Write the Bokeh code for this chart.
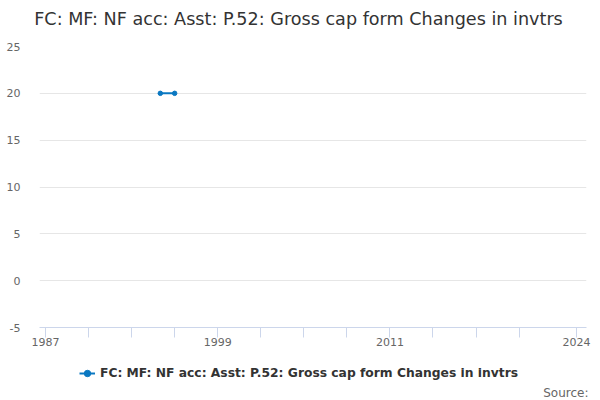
from bokeh.plotting import figure
from bokeh.layouts import column
from bokeh.models import (ColumnDataSource, FixedTicker, Range1d, Label, Legend, LegendItem)
from bokeh.embed import file_html
from bokeh.resources import INLINE

# ---- data ----
years = [1995, 1996]
values = [20, 20]
series_name = "FC: MF: NF acc: Asst: P.52: Gross cap form Changes in invtrs"
title_text = "FC: MF: NF acc: Asst: P.52: Gross cap form Changes in invtrs"
x_ticks = [1987, 1990, 1993, 1996, 1999, 2002, 2005, 2008, 2011, 2014, 2017, 2020, 2024]
x_tick_labels = ["1987", "", "", "", "1999", "", "", "", "2011", "", "", "", "2024"]
y_ticks = [-5, 0, 5, 10, 15, 20, 25]
y_tick_labels = ["-5", "0", "5", "10", "15", "20", "25"]
source_text = "Source:"

FONT = "DejaVu Sans"
LINE_COLOR = "#0a78c2"
W = 600


def bare(height):
    f = figure(width=W, height=height, output_backend="svg", toolbar_location=None,
               x_range=Range1d(0, 1), y_range=Range1d(0, 1),
               x_axis_type=None, y_axis_type=None,
               min_border_left=0, min_border_right=0, min_border_top=0, min_border_bottom=0)
    f.frame_align = False
    f.outline_line_color = None
    f.xgrid.visible = False
    f.ygrid.visible = False
    f.border_fill_color = "white"
    f.background_fill_color = "white"
    return f


src = ColumnDataSource(data=dict(x=years, y=values))

# ---- title strip ----
top = bare(36)
top.add_layout(Label(x=298, y=18, x_units="screen", y_units="screen", text=title_text,
                     text_align="center", text_baseline="middle", text_font=FONT,
                     text_font_size="17.6px", text_color="#333333"))

# ---- main chart ----
p = figure(width=W, height=316, output_backend="svg", toolbar_location=None,
           x_range=Range1d(1986.58, 2024.7), y_range=Range1d(-5, 25),
           min_border_left=39, min_border_right=14, min_border_top=10, min_border_bottom=25)
p.outline_line_color = None
p.background_fill_color = "white"
p.border_fill_color = "white"

p.line("x", "y", source=src, line_color=LINE_COLOR, line_width=2)
p.scatter("x", "y", source=src, marker="circle", size=4.5,
          fill_color=LINE_COLOR, line_color=LINE_COLOR)

xa = p.xaxis[0]
xa.ticker = FixedTicker(ticks=x_ticks)
xa.major_label_overrides = {t: l for t, l in zip(x_ticks, x_tick_labels)}
xa.axis_line_color = "#ccd6eb"
xa.major_tick_line_color = "#ccd6eb"
xa.major_tick_out = 10
xa.major_tick_in = 0
xa.minor_tick_line_color = None
xa.major_label_standoff = 0
xa.major_label_text_font = FONT
xa.major_label_text_font_size = "11px"
xa.major_label_text_color = "#666666"

ya = p.yaxis[0]
ya.ticker = FixedTicker(ticks=y_ticks)
ya.major_label_overrides = {t: l for t, l in zip(y_ticks, y_tick_labels)}
ya.axis_line_color = None
ya.major_tick_line_color = None
ya.minor_tick_line_color = None
ya.major_label_standoff = 13
ya.major_label_text_font = FONT
ya.major_label_text_font_size = "11px"
ya.major_label_text_color = "#666666"

p.xgrid.grid_line_color = None
p.ygrid.ticker = FixedTicker(ticks=[0, 5, 10, 15, 20, 25])
p.ygrid.grid_line_color = "#e6e6e6"

# ---- legend + source strip ----
bot = bare(48)
# series drawn here only to supply the legend swatch (falls outside this strip's range)
lg_line = bot.line("x", "y", source=src, line_color=LINE_COLOR, line_width=2)
lg_pts = bot.scatter("x", "y", source=src, marker="circle", size=4,
                     fill_color=LINE_COLOR, line_color=LINE_COLOR)
legend = Legend(items=[LegendItem(label=series_name, renderers=[lg_line, lg_pts])],
                location=(79, 19), orientation="horizontal",
                padding=0, margin=0, spacing=0, label_standoff=5,
                glyph_width=16, glyph_height=16, label_height=16,
                label_text_font=FONT, label_text_font_size="12.3px",
                label_text_font_style="bold", label_text_color="#333333",
                border_line_color=None, background_fill_alpha=0)
bot.add_layout(legend, "center")
bot.add_layout(Label(x=588, y=8, x_units="screen", y_units="screen", text=source_text,
                     text_align="right", text_baseline="alphabetic", text_font=FONT,
                     text_font_size="12px", text_color="#666666"))

layout = column(top, p, bot, spacing=0)
open("out.html", "w").write(file_html(layout, INLINE))
